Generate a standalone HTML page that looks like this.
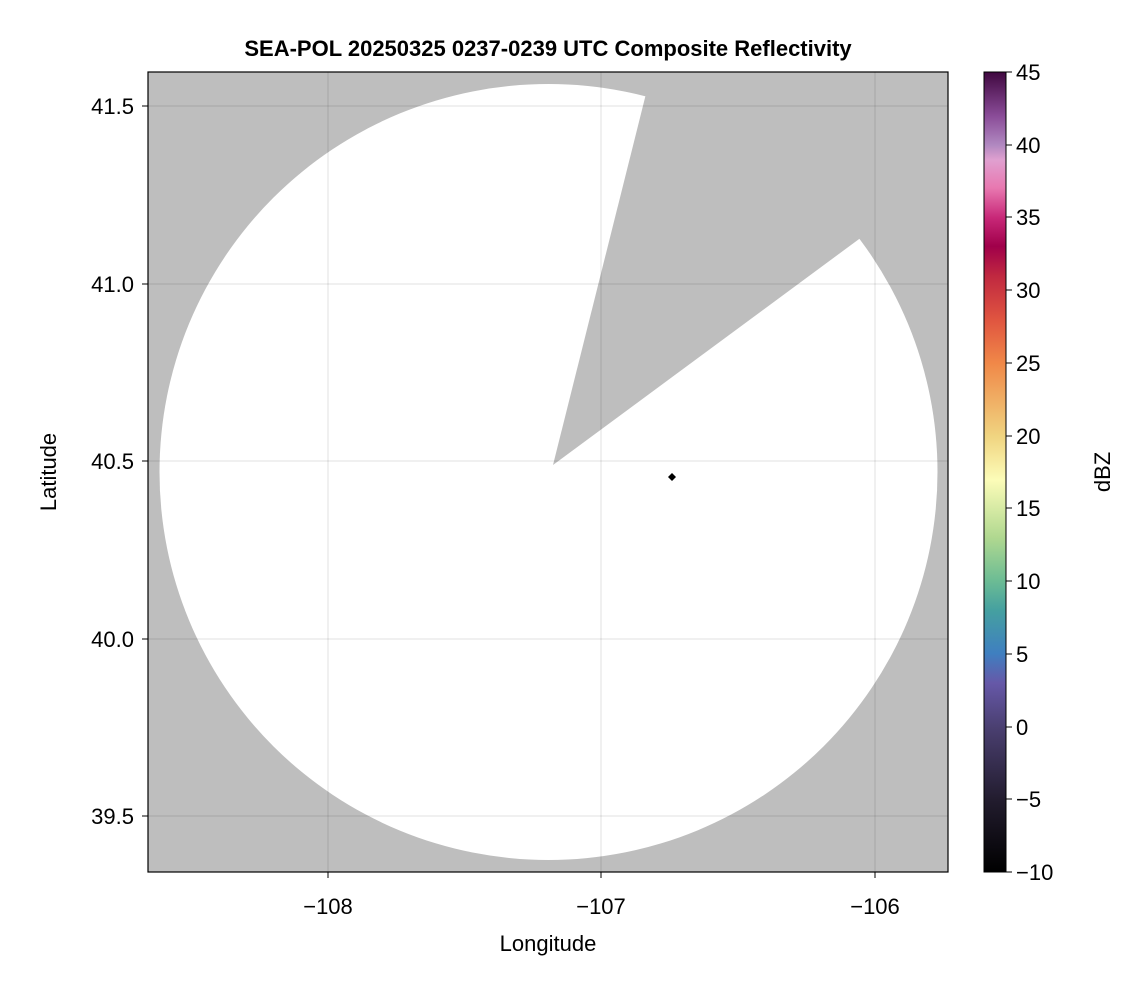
<!DOCTYPE html>
<html><head><style>
body{margin:0;background:#fff;}
svg text{font-family:"Liberation Sans",Arial,sans-serif;}
</style></head><body>
<svg width="1146" height="990" viewBox="0 0 1146 990" xmlns="http://www.w3.org/2000/svg">
<defs>
<clipPath id="pa"><rect x="148" y="72" width="800" height="800"/></clipPath>
<linearGradient id="cb" x1="0" y1="1" x2="0" y2="0">
<stop offset="0" stop-color="#000000"/>
<stop offset="0.09" stop-color="#221c2e"/>
<stop offset="0.18" stop-color="#4a3f70"/>
<stop offset="0.236" stop-color="#6658a8"/>
<stop offset="0.273" stop-color="#3f7fc0"/>
<stop offset="0.327" stop-color="#45a0a0"/>
<stop offset="0.364" stop-color="#6cbc94"/>
<stop offset="0.418" stop-color="#b0d890"/>
<stop offset="0.49" stop-color="#fcfcb8"/>
<stop offset="0.545" stop-color="#f0d480"/>
<stop offset="0.636" stop-color="#f08848"/>
<stop offset="0.69" stop-color="#e05540"/>
<stop offset="0.745" stop-color="#c02840"/>
<stop offset="0.782" stop-color="#a0004a"/>
<stop offset="0.818" stop-color="#c82878"/>
<stop offset="0.855" stop-color="#e878b0"/>
<stop offset="0.89" stop-color="#e0a0d0"/>
<stop offset="0.909" stop-color="#b088c0"/>
<stop offset="0.945" stop-color="#8a4c98"/>
<stop offset="1" stop-color="#400840"/>
</linearGradient>
</defs>
<g clip-path="url(#pa)">
<rect x="148" y="72" width="800" height="800" fill="#bebebe"/>
<ellipse cx="548.5" cy="472" rx="389" ry="388" fill="#fff"/>
<polygon points="553,465 672,-10 1000,-10 1000,135" fill="#bebebe"/>
<g stroke="#000" stroke-opacity="0.12" stroke-width="1">
<line x1="328" y1="72" x2="328" y2="872"/><line x1="601" y1="72" x2="601" y2="872"/><line x1="875" y1="72" x2="875" y2="872"/>
<line x1="148" y1="106" x2="948" y2="106"/><line x1="148" y1="284" x2="948" y2="284"/><line x1="148" y1="461" x2="948" y2="461"/><line x1="148" y1="639" x2="948" y2="639"/><line x1="148" y1="816" x2="948" y2="816"/>
</g>
<polygon points="672,473 676,477 672,481 668,477" fill="#000"/>
</g>
<rect x="148" y="72" width="800" height="800" fill="none" stroke="#000" stroke-width="1.2"/>
<g stroke="#000" stroke-width="1">
<line x1="328" y1="872" x2="328" y2="878"/><line x1="601" y1="872" x2="601" y2="878"/><line x1="875" y1="872" x2="875" y2="878"/>
<line x1="142" y1="106" x2="148" y2="106"/><line x1="142" y1="284" x2="148" y2="284"/><line x1="142" y1="461" x2="148" y2="461"/><line x1="142" y1="639" x2="148" y2="639"/><line x1="142" y1="816" x2="148" y2="816"/>
</g>
<g font-size="22" fill="#000" text-anchor="middle">
<text x="328" y="914">−108</text><text x="601" y="914">−107</text><text x="875" y="914">−106</text>
<text x="548" y="951">Longitude</text>
</g>
<g font-size="22" fill="#000" text-anchor="end">
<text x="134" y="114">41.5</text><text x="134" y="292">41.0</text><text x="134" y="469">40.5</text><text x="134" y="647">40.0</text><text x="134" y="824">39.5</text>
</g>
<text transform="translate(56,472) rotate(-90)" font-size="22" text-anchor="middle">Latitude</text>
<text x="548" y="56" font-size="22" font-weight="bold" text-anchor="middle">SEA-POL 20250325 0237-0239 UTC Composite Reflectivity</text>
<rect x="984" y="72" width="22" height="800" fill="url(#cb)" stroke="#000" stroke-width="1"/>
<g stroke="#000" stroke-width="1">
<line x1="1006" y1="72" x2="1012" y2="72"/><line x1="1006" y1="145" x2="1012" y2="145"/><line x1="1006" y1="217" x2="1012" y2="217"/><line x1="1006" y1="290" x2="1012" y2="290"/><line x1="1006" y1="363" x2="1012" y2="363"/><line x1="1006" y1="436" x2="1012" y2="436"/><line x1="1006" y1="508" x2="1012" y2="508"/><line x1="1006" y1="581" x2="1012" y2="581"/><line x1="1006" y1="654" x2="1012" y2="654"/><line x1="1006" y1="727" x2="1012" y2="727"/><line x1="1006" y1="799" x2="1012" y2="799"/><line x1="1006" y1="872" x2="1012" y2="872"/>
</g>
<g font-size="22" fill="#000">
<text x="1016" y="80">45</text><text x="1016" y="153">40</text><text x="1016" y="225">35</text><text x="1016" y="298">30</text><text x="1016" y="371">25</text><text x="1016" y="444">20</text><text x="1016" y="516">15</text><text x="1016" y="589">10</text><text x="1016" y="662">5</text><text x="1016" y="735">0</text><text x="1016" y="807">−5</text><text x="1016" y="880">−10</text>
</g>
<text transform="translate(1110,472) rotate(-90)" font-size="22" text-anchor="middle">dBZ</text>
</svg>
</body></html>
